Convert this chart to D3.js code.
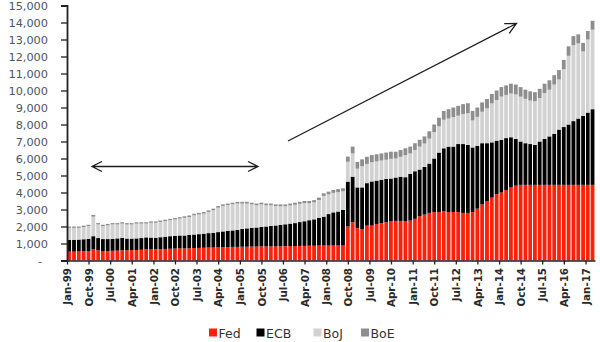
<!DOCTYPE html>
<html><head><meta charset="utf-8">
<script src="https://cdn.jsdelivr.net/npm/d3@7"></script>
<style>body{margin:0;background:#fff}svg{display:block}</style>
</head><body><svg id="c" width="600" height="342"></svg>
<script>
// Central bank balance sheets (USD bn), bi-monthly from Jan-99 to Mar-17
const seriesNames = ["Fed", "ECB", "BoJ", "BoE"];
const fed = [
520,520,530,540,560,650,
600,560,560,570,580,600,
600,610,620,630,660,650,
660,670,680,690,700,710,
710,720,730,740,750,760,
760,770,780,790,800,800,
810,810,820,820,830,830,
830,830,840,840,850,850,
860,860,870,870,880,880,
880,880,880,880,2000,2250,
1900,1850,2050,2050,2150,2200,
2250,2300,2330,2330,2300,2350,
2450,2600,2700,2800,2850,2850,
2900,2850,2850,2850,2800,2800,
2850,3050,3300,3500,3700,3900,
4000,4150,4300,4400,4450,4450,
4450,4450,4450,4450,4450,4450,
4450,4450,4450,4450,4450,4450,
4450,4450];
const ecb = [
690,700,700,710,720,780,
720,700,700,700,720,730,
690,680,680,690,700,700,
680,700,720,740,750,760,
760,780,800,810,830,850,
870,900,930,950,970,1000,
1050,1080,1100,1120,1150,1170,
1200,1230,1260,1290,1320,1350,
1400,1450,1500,1550,1620,1700,
1850,1950,2000,2100,2640,2680,
2400,2450,2500,2600,2550,2550,
2550,2520,2550,2600,2600,2750,
2800,2750,2800,2900,3150,3500,
3700,3850,3850,4000,4050,4000,
3800,3700,3600,3400,3250,3150,
3100,3050,2950,2750,2550,2450,
2400,2350,2550,2700,2850,3000,
3250,3400,3550,3750,3900,4050,
4250,4450];
const boj = [
710,700,690,720,740,1150,
800,760,810,850,820,840,
830,830,870,850,810,870,
880,900,920,940,970,1000,
1040,1060,1130,1160,1180,1250,
1330,1440,1500,1520,1540,1550,
1490,1460,1380,1310,1320,1250,
1220,1140,1090,1060,1070,1080,
1070,1070,1000,1000,1060,1220,
1160,1150,1140,1090,1170,1370,
1100,1250,1130,1130,1130,1130,
1130,1160,1120,1170,1300,1200,
1250,1350,1380,1470,1550,1550,
1680,1650,1740,1670,1770,1870,
1590,1700,1850,2050,2290,2390,
2540,2540,2570,2620,2640,2610,
2560,2580,2560,2700,2750,2900,
2950,3400,4040,4460,4420,3800,
4300,4680];
const boe = [
80,80,80,80,80,100,
80,80,80,80,80,80,
80,80,80,80,80,80,
80,80,80,80,80,80,
90,90,90,90,90,90,
90,90,90,90,90,100,
100,100,100,100,100,100,
100,100,110,110,110,120,
120,120,130,130,140,150,
160,170,180,180,300,400,
400,400,420,420,420,420,
420,420,400,400,400,400,
400,400,420,430,450,500,
520,550,560,580,580,580,
560,550,550,550,560,560,
560,560,580,580,560,540,
540,520,540,550,550,550,
550,550,560,540,530,500,
500,520];
const tickLabels = ["Jan-99","Oct-99","Jul-00","Apr-01","Jan-02","Oct-02","Jul-03","Apr-04",
  "Jan-05","Oct-05","Jul-06","Apr-07","Jan-08","Oct-08","Jul-09","Apr-10","Jan-11","Oct-11",
  "Jul-12","Apr-13","Jan-14","Oct-14","Jul-15","Apr-16","Jan-17"];
const yTicks = [0,1000,2000,3000,4000,5000,6000,7000,8000,9000,10000,11000,12000,13000,14000,15000];
const colors = {Fed:"#ff200a", ECB:"#000000", BoJ:"#d2d2d2", BoE:"#8e8e8e"};

const periods = d3.timeMonth.range(new Date(1999,0,1), new Date(2017,4,1), 2);
const rows = periods.map((d,i) => ({date:d, Fed:fed[i], ECB:ecb[i], BoJ:boj[i], BoE:boe[i]}));

const svg = d3.select("#c");
const mLeft = 67, mRight = 595, mTop = 5.5, mBottom = 260.5;
const x = d3.scaleTime().domain([new Date(1999,0,1), new Date(2017,4,1)]).range([mLeft, mRight]);
const y = d3.scaleLinear().domain([0,15000]).range([mBottom, mTop]);

const stack = d3.stack().keys(seriesNames)(rows);
svg.append("g").selectAll("g").data(stack).join("g")
  .attr("fill", s => colors[s.key])
  .selectAll("rect").data(s => s).join("rect")
  .attr("x", d => x(d.data.date) + 0.45)
  .attr("width", d => x(d3.timeMonth.offset(d.data.date,2)) - x(d.data.date) - 1.0)
  .attr("y", d => y(d[1]))
  .attr("height", d => y(d[0]) - y(d[1]));

const parse = d3.timeParse("%b-%y");
const tickDates = tickLabels.map(parse);

// x axis
const xAxis = svg.append("g").attr("transform", `translate(0,${mBottom})`)
  .call(d3.axisBottom(x).tickValues(tickDates).tickFormat((d,i) => tickLabels[i]).tickSize(4).tickSizeOuter(0));
xAxis.select(".domain").attr("stroke","#222").attr("stroke-width",1.3);
xAxis.selectAll(".tick line").attr("stroke","#222").attr("stroke-width",1.3);
xAxis.selectAll(".tick text")
  .attr("transform","rotate(-90)")
  .attr("x",-7.5).attr("y",0).attr("dy","0.36em")
  .attr("text-anchor","end")
  .attr("fill","#2a2a2a")
  .style("font-family","'DejaVu Sans', sans-serif").style("font-size","10.3px").style("font-weight","bold");

// y axis
const yAxis = svg.append("g").attr("transform", `translate(${mLeft},0)`)
  .call(d3.axisLeft(y).tickValues(yTicks).tickFormat(d => d === 0 ? "-" : d3.format(",")(d)).tickSize(6).tickPadding(13));
yAxis.select(".domain").attr("stroke","#222").attr("stroke-width",1.8);
yAxis.selectAll(".tick line").attr("stroke","#222").attr("stroke-width",1.3);
yAxis.selectAll(".tick text")
  .attr("fill","#4d5566")
  .style("font-family","'DejaVu Sans', sans-serif").style("font-size","11.3px")
  .filter(d => d === 0).attr("x", -25);

// arrows
const arrowColor = "#1e1e1e";
function head(x1,y1,x2,y2,len,half){
  const a = Math.atan2(y2-y1, x2-x1);
  const bx = x2 - len*Math.cos(a), by = y2 - len*Math.sin(a);
  const px = -Math.sin(a)*half, py = Math.cos(a)*half;
  return `M${bx+px},${by+py}L${x2},${y2}L${bx-px},${by-py}`;
}
const ann = svg.append("g").attr("fill","none").attr("stroke",arrowColor).attr("stroke-width",1.3);
ann.append("path").attr("d", `M92,166.5L258,166.5` + head(258,166.5,92,166.5,10,5) + head(92,166.5,258,166.5,10,5));
ann.append("path").attr("d", `M288,141L516.5,23.5` + head(288,141,516.5,23.5,11,5.5));

// legend
const legendItems = [{k:"Fed",x:209},{k:"ECB",x:256.5},{k:"BoJ",x:313.5},{k:"BoE",x:361}];
const lg = svg.append("g");
legendItems.forEach(it => {
  lg.append("rect").attr("x",it.x).attr("y",328.5).attr("width",8).attr("height",8).attr("fill",colors[it.k]);
  lg.append("text").attr("x",it.x+9.5).attr("y",337.5).text(it.k)
    .attr("fill","#333").style("font-family","'DejaVu Sans', sans-serif").style("font-size","12.5px");
});
</script>
</body></html>
